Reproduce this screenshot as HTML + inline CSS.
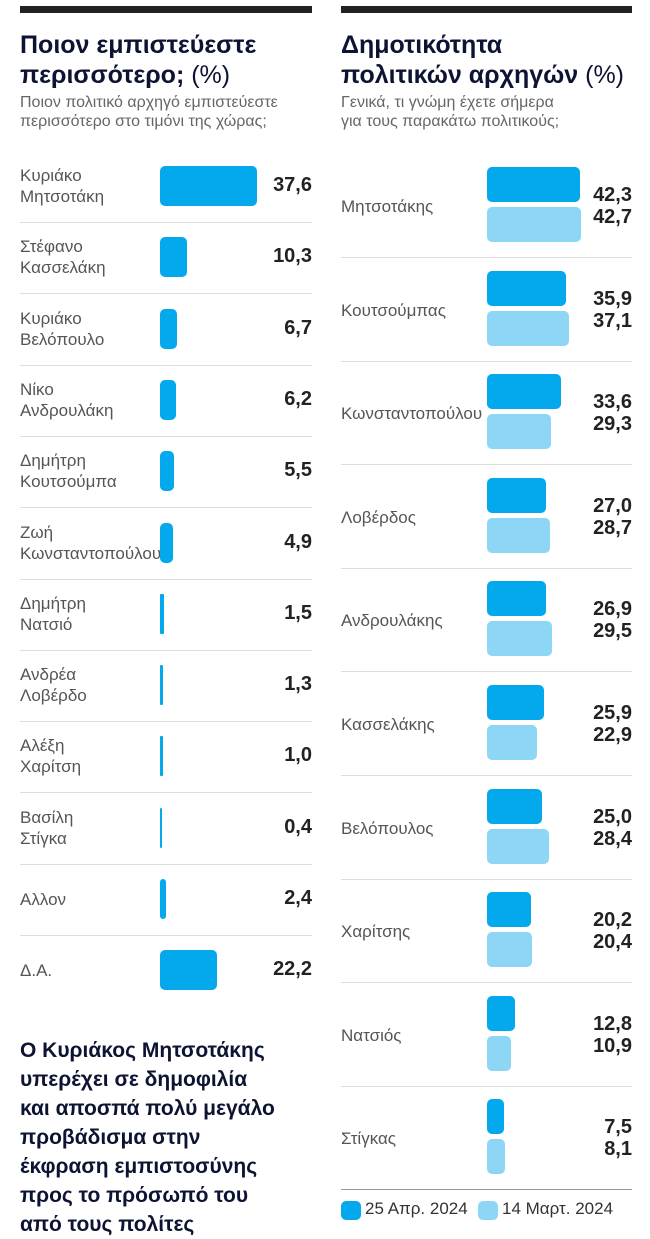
<!DOCTYPE html>
<html><head><meta charset="utf-8"><style>
body{margin:0;width:650px;height:1231px;background:#fff;position:relative;font-family:"Liberation Sans","DejaVu Sans",sans-serif;overflow:hidden}
.a{position:absolute;white-space:nowrap}
.bar{position:absolute;border-radius:5px}
.d{background:#03a9ec}.l{background:#8ed6f6}
.t{color:#0d1433;font-weight:bold;font-size:25px;line-height:30px}
.s{color:#666;font-size:16px;line-height:19px}
.n{color:#555;font-size:17px;line-height:21px}
.v{color:#222;font-weight:bold;font-size:20px;text-align:right}
.sep{position:absolute;height:1px;background:#ddd}
</style></head><body>
<div class="a" style="left:20px;top:6px;width:292px;height:7px;background:#222"></div>
<div class="a" style="left:341px;top:6px;width:291px;height:7px;background:#222"></div>
<div class="a t" style="left:20px;top:30px">Ποιον εμπιστεύεστε<br>περισσότερο; <span style="font-weight:normal">(%)</span></div>
<div class="a s" style="left:20px;top:93px">Ποιον πολιτικό αρχηγό εμπιστεύεστε<br>περισσότερο στο τιμόνι της χώρας;</div>
<div class="a t" style="left:341px;top:30px">Δημοτικότητα<br>πολιτικών αρχηγών <span style="font-weight:normal">(%)</span></div>
<div class="a s" style="left:341px;top:93px">Γενικά, τι γνώμη έχετε σήμερα<br>για τους παρακάτω πολιτικούς;</div>
<div id="L"></div><div id="R"></div>
<div class="a" style="left:20px;top:1036px;font-size:21px;line-height:29px;font-weight:bold;color:#0d1433">Ο Κυριάκος Μητσοτάκης<br>υπερέχει σε δημοφιλία<br>και αποσπά πολύ μεγάλο<br>προβάδισμα στην<br>έκφραση εμπιστοσύνης<br>προς το πρόσωπό του<br>από τους πολίτες</div>
<div class="a" style="left:341px;top:1189px;width:291px;height:1px;background:#999"></div>
<div class="bar d" style="left:341px;top:1201px;width:20px;height:19px"></div>
<div class="a" style="left:365px;top:1199px;font-size:17px;color:#333">25 Απρ. 2024</div>
<div class="bar l" style="left:478px;top:1201px;width:20px;height:19px"></div>
<div class="a" style="left:502px;top:1199px;font-size:17px;color:#333">14 Μαρτ. 2024</div>
<script>
var L=[["Κυριάκο<br>Μητσοτάκη",37.6],["Στέφανο<br>Κασσελάκη",10.3],["Κυριάκο<br>Βελόπουλο",6.7],["Νίκο<br>Ανδρουλάκη",6.2],["Δημήτρη<br>Κουτσούμπα",5.5],["Ζωή<br>Κωνσταντοπούλου",4.9],["Δημήτρη<br>Νατσιό",1.5],["Ανδρέα<br>Λοβέρδο",1.3],["Αλέξη<br>Χαρίτση",1.0],["Βασίλη<br>Στίγκα",0.4],["Αλλον",2.4],["Δ.Α.",22.2]];
var h="";L.forEach(function(r,i){var top=150+i*71.3;var c=top+36;
h+='<div class="a n" style="left:20px;top:'+(r[0].indexOf("<br>")>0?c-21:c-10)+'px">'+r[0]+'</div>';
var w=Math.max(2,r[1]*2.58);h+='<div class="bar d" style="left:160px;top:'+(c-20)+'px;width:'+w+'px;height:40px;'+(w<6?'border-radius:1px':'')+'"></div>';
h+='<div class="a v" style="right:338px;top:'+(c-12)+'px">'+r[1].toFixed(1).replace(".",",")+'</div>';
if(i<11)h+='<div class="sep" style="left:20px;width:292px;top:'+(top+72)+'px"></div>';});
document.getElementById("L").innerHTML=h;
var R=[["Μητσοτάκης",42.3,42.7],["Κουτσούμπας",35.9,37.1],["Κωνσταντοπούλου",33.6,29.3],["Λοβέρδος",27.0,28.7],["Ανδρουλάκης",26.9,29.5],["Κασσελάκης",25.9,22.9],["Βελόπουλος",25.0,28.4],["Χαρίτσης",20.2,20.4],["Νατσιός",12.8,10.9],["Στίγκας",7.5,8.1]];
h="";R.forEach(function(r,i){var top=157+i*103.6;
h+='<div class="a n" style="left:341px;top:'+(top+39)+'px">'+r[0]+'</div>';
h+='<div class="bar d" style="left:487px;top:'+(top+10)+'px;width:'+r[1]*2.2+'px;height:35px"></div>';
h+='<div class="bar l" style="left:487px;top:'+(top+50)+'px;width:'+r[2]*2.2+'px;height:35px"></div>';
h+='<div class="a v" style="right:18px;top:'+(top+27)+'px;line-height:22px;font-size:20px">'+r[1].toFixed(1).replace(".",",")+'<br>'+r[2].toFixed(1).replace(".",",")+'</div>';
if(i<9)h+='<div class="sep" style="left:341px;width:291px;top:'+(top+100)+'px"></div>';});
document.getElementById("R").innerHTML=h;
</script>
</body></html>
